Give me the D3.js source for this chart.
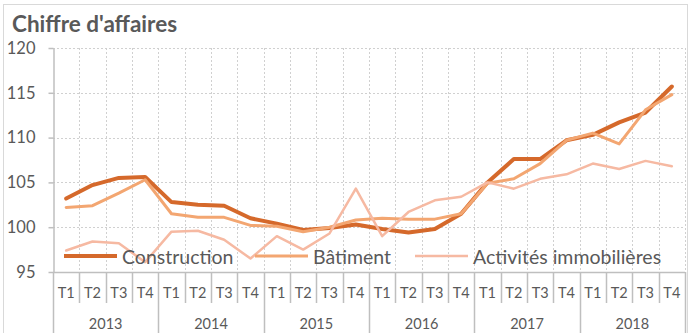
<!DOCTYPE html>
<html>
<head>
<meta charset="utf-8">
<script src="https://cdn.jsdelivr.net/npm/d3@7"></script>
<style>
  html, body { margin: 0; padding: 0; background: #fff; }
  svg { display: block; font-family: Lato, "Open Sans", sans-serif; }
</style>
</head>
<body>
<svg id="chart" width="691" height="333"></svg>
<script>
// Quarterly turnover indices, 2013–2018
const years = ["2013", "2014", "2015", "2016", "2017", "2018"];
const quarters = ["T1", "T2", "T3", "T4"];
const yTicks = [95, 100, 105, 110, 115, 120];

const construction = [103.2, 104.7, 105.5, 105.6, 102.8, 102.5, 102.4, 101.0,
                      100.4, 99.7, 99.9, 100.3, 99.8, 99.4, 99.8, 101.5,
                      105.0, 107.6, 107.6, 109.7, 110.3, 111.7, 112.8, 115.7];
const batiment = [102.2, 102.4, 103.8, 105.3, 101.5, 101.1, 101.1, 100.2,
                  100.1, 99.5, 100.0, 100.8, 101.0, 100.9, 100.9, 101.5,
                  104.9, 105.4, 107.1, 109.7, 110.5, 109.3, 113.1, 114.8];
const immobilier = [97.4, 98.4, 98.2, 96.1, 99.5, 99.6, 98.6, 96.5,
                    99.0, 97.5, 99.3, 104.3, 99.0, 101.7, 103.0, 103.4,
                    105.0, 104.3, 105.4, 105.9, 107.1, 106.5, 107.4, 106.8];

const seriesNames = ["Construction", "Bâtiment", "Activités immobilières"];
const seriesValues = [construction, batiment, immobilier];
const seriesColors = ["#D5692B", "#F3A671", "#F6B9A2"];
const seriesWidths = [4, 3, 2.5];

// categories: every quarter of every year
const categories = [];
years.forEach(yr => quarters.forEach(q => categories.push({ year: yr, q: q, key: yr + q })));

const svg = d3.select("#chart");
const plotLeft = 53, plotRight = 685, plotTop = 48, plotBottom = 272;
const textColor = "#595959";
const axisColor = "#BFBFBF";
const gridColor = "#D0D0D0";

const x = d3.scaleBand().domain(categories.map(d => d.key)).range([plotLeft, plotRight]).padding(0);
const y = d3.scaleLinear().domain([95, 120]).range([plotBottom, plotTop]);

// chart frame
svg.append("rect").attr("x", 3.5).attr("y", 4.5).attr("width", 684).attr("height", 340)
  .attr("fill", "none").attr("stroke", "#D9D9D9").attr("stroke-width", 1);

// title
svg.append("text").attr("x", 12).attr("y", 32)
  .attr("fill", textColor).attr("font-weight", "bold").attr("font-size", 22.5)
  .text("Chiffre d'affaires");

// gridlines (dotted)
const grid = svg.append("g");
grid.selectAll("line.h").data(yTicks.filter(t => t > 95)).join("line")
  .attr("x1", plotLeft).attr("x2", plotRight)
  .attr("y1", d => Math.round(y(d)) + 0.5).attr("y2", d => Math.round(y(d)) + 0.5)
  .attr("stroke", gridColor).attr("stroke-dasharray", "2,2");
const bounds = categories.map(d => x(d.key)).slice(1).concat([plotRight]);
grid.selectAll("line.v").data(bounds).join("line")
  .attr("x1", d => Math.round(d) + 0.5).attr("x2", d => Math.round(d) + 0.5)
  .attr("y1", plotTop).attr("y2", plotBottom)
  .attr("stroke", gridColor).attr("stroke-dasharray", "2,2");

// y axis
const yAxis = d3.axisLeft(y).tickValues(yTicks).tickSizeInner(5).tickSizeOuter(0).tickPadding(13);
const yg = svg.append("g").attr("transform", `translate(${plotLeft + 0.5},0)`).call(yAxis);
yg.select(".domain").attr("stroke", axisColor).attr("stroke-width", 1.5);
yg.selectAll(".tick line").attr("stroke", axisColor).attr("stroke-width", 1.5);
yg.selectAll(".tick text").attr("fill", textColor).attr("font-size", 16.5)
  .attr("font-family", "Lato, sans-serif");

// x axis: quarter labels, year labels and separators
const xg = svg.append("g");
xg.append("line").attr("x1", plotLeft).attr("x2", plotRight).attr("y1", plotBottom + 0.5).attr("y2", plotBottom + 0.5)
  .attr("stroke", axisColor).attr("stroke-width", 1.5);
xg.selectAll("line.sep").data(categories).join("line")
  .attr("x1", d => Math.round(x(d.key)) + 0.5).attr("x2", d => Math.round(x(d.key)) + 0.5)
  .attr("y1", plotBottom).attr("y2", d => d.q === "T1" ? 340 : 303)
  .attr("stroke", axisColor).attr("stroke-width", 1.5);
xg.append("line").attr("x1", plotRight + 0.5).attr("x2", plotRight + 0.5).attr("y1", plotBottom).attr("y2", 340)
  .attr("stroke", axisColor).attr("stroke-width", 1.5);
xg.selectAll("text.q").data(categories).join("text")
  .attr("x", d => x(d.key) + x.bandwidth() / 2).attr("y", 298)
  .attr("text-anchor", "middle").attr("fill", textColor).attr("font-size", 14.5)
  .text(d => d.q);
xg.selectAll("text.yr").data(years).join("text")
  .attr("x", d => x(d + "T1") + x.bandwidth() * 2).attr("y", 329)
  .attr("text-anchor", "middle").attr("fill", textColor).attr("font-size", 14.5)
  .text(d => d);

// series lines
const line = d3.line().x((d, i) => x(categories[i].key) + x.bandwidth() / 2).y(d => y(d));
seriesValues.forEach((vals, k) => {
  svg.append("path").datum(vals).attr("d", line)
    .attr("fill", "none").attr("stroke", seriesColors[k]).attr("stroke-width", seriesWidths[k])
    .attr("stroke-linejoin", "round").attr("stroke-linecap", "round");
});

// legend
const legendPos = [{ x1: 64, x2: 117, tx: 122 }, { x1: 255, x2: 308, tx: 313 }, { x1: 415, x2: 468, tx: 473 }];
const lg = svg.append("g");
seriesNames.forEach((name, k) => {
  const p = legendPos[k];
  lg.append("line").attr("x1", p.x1).attr("x2", p.x2).attr("y1", 256).attr("y2", 256)
    .attr("stroke", seriesColors[k]).attr("stroke-width", seriesWidths[k]);
  lg.append("text").attr("x", p.tx).attr("y", 263.5).attr("fill", textColor).attr("font-size", 19.5)
    .text(name);
});
</script>
</body>
</html>
